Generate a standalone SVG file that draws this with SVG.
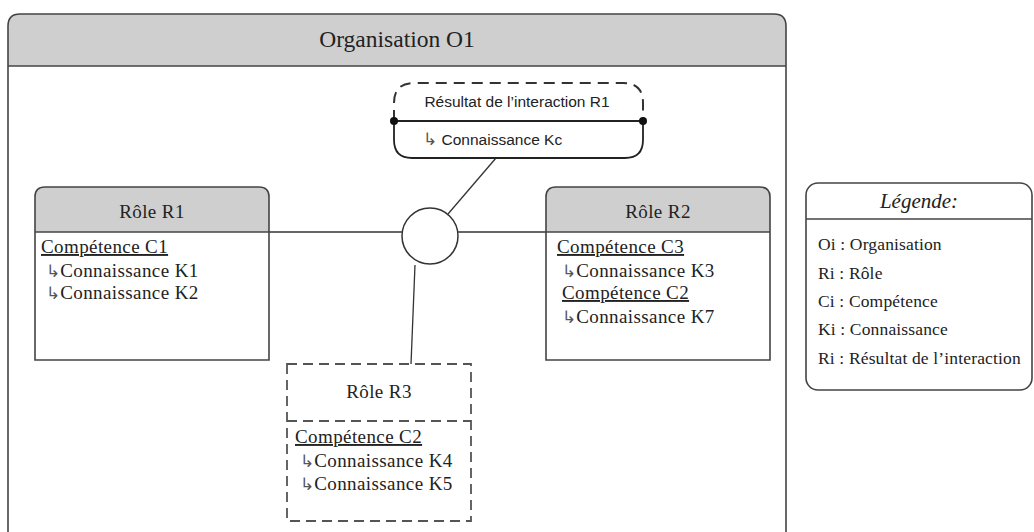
<svg xmlns="http://www.w3.org/2000/svg" width="1034" height="532" viewBox="0 0 1034 532">
<style>
.serif{font-family:"Liberation Serif","Times New Roman",serif;fill:#222}
.rt{font-size:19px;letter-spacing:0.4px}
.lg{font-size:17.5px;letter-spacing:0.15px}
.sans{font-family:"Liberation Sans",Arial,sans-serif;fill:#222}
.icon{font-family:"DejaVu Sans",sans-serif;font-size:17px;fill:#555;letter-spacing:0}
.hdr{fill:#cfcfcf}
.box{fill:none;stroke:#444;stroke-width:1.6}
.dash{fill:none;stroke:#555;stroke-width:1.8;stroke-dasharray:10 6}
.conn{stroke:#333;stroke-width:1.3;fill:none}
</style>
<rect width="1034" height="532" fill="#fff"/>
<g id="org">
  <path class="hdr" d="M8,66 V26 Q8,14 20,14 H774 Q786,14 786,26 V66 Z"/>
  <path class="box" d="M8,540 V26 Q8,14 20,14 H774 Q786,14 786,26 V540"/>
  <line x1="8" y1="66" x2="786" y2="66" stroke="#444" stroke-width="1.6"/>
  <text class="serif" x="397" y="47" font-size="23.5" text-anchor="middle">Organisation O1</text>
</g>
<g id="connectors">
  <line class="conn" x1="269" y1="232" x2="402" y2="232"/>
  <line class="conn" x1="458" y1="232" x2="546" y2="232"/>
  <line class="conn" x1="448" y1="214" x2="496" y2="158"/>
  <line class="conn" x1="415" y1="265" x2="411" y2="364"/>
</g>
<g id="interaction">
  <circle cx="430" cy="236" r="28" fill="#fff" stroke="#333" stroke-width="1.5"/>
</g>
<g id="result">
  <path d="M394,121 V103 Q394,83 414,83 H623 Q643,83 643,103 V121" fill="#fff" stroke="#333" stroke-width="2" stroke-dasharray="11 7"/>
  <path d="M394,121 V140 Q394,158 412,158 H625 Q643,158 643,140 V121" fill="#fff" stroke="#222" stroke-width="1.8"/>
  <line x1="394" y1="121" x2="643" y2="121" stroke="#222" stroke-width="2"/>
  <circle cx="394" cy="121" r="4" fill="#111"/>
  <circle cx="643" cy="121" r="4" fill="#111"/>
  <text class="sans" x="517" y="107" font-size="15.5" text-anchor="middle">Résultat de l’interaction R1</text>
  <text class="sans" x="423" y="145" font-size="15.5"><tspan class="icon">↳</tspan> Connaissance Kc</text>
</g>
<g id="role-r1">
  <path class="hdr" d="M35,232 V197 Q35,187 45,187 H259 Q269,187 269,197 V232 Z"/>
  <path class="box" d="M35,360 V197 Q35,187 45,187 H259 Q269,187 269,197 V360 Z"/>
  <line x1="35" y1="232" x2="269" y2="232" stroke="#444" stroke-width="1.6"/>
  <text class="serif rt" x="152" y="218" text-anchor="middle">Rôle R1</text>
  <text class="serif rt" x="41" y="253" text-decoration="underline">Compétence C1</text>
  <text class="serif rt" x="46" y="277"><tspan class="icon">↳</tspan>Connaissance K1</text>
  <text class="serif rt" x="46" y="299"><tspan class="icon">↳</tspan>Connaissance K2</text>
</g>
<g id="role-r2">
  <path class="hdr" d="M546,232 V197 Q546,187 556,187 H760 Q770,187 770,197 V232 Z"/>
  <path class="box" d="M546,360 V197 Q546,187 556,187 H760 Q770,187 770,197 V360 Z"/>
  <line x1="546" y1="232" x2="770" y2="232" stroke="#444" stroke-width="1.6"/>
  <text class="serif rt" x="658" y="218" text-anchor="middle">Rôle R2</text>
  <text class="serif rt" x="557" y="253" text-decoration="underline">Compétence C3</text>
  <text class="serif rt" x="562" y="277"><tspan class="icon">↳</tspan>Connaissance K3</text>
  <text class="serif rt" x="562" y="299" text-decoration="underline">Compétence C2</text>
  <text class="serif rt" x="562" y="323"><tspan class="icon">↳</tspan>Connaissance K7</text>
</g>
<g id="role-r3">
  <rect class="dash" x="287" y="364" width="184" height="157"/>
  <line class="dash" x1="287" y1="421" x2="471" y2="421"/>
  <text class="serif rt" x="379" y="398" text-anchor="middle">Rôle R3</text>
  <text class="serif rt" x="295" y="443" text-decoration="underline">Compétence C2</text>
  <text class="serif rt" x="300" y="467"><tspan class="icon">↳</tspan>Connaissance K4</text>
  <text class="serif rt" x="300" y="490"><tspan class="icon">↳</tspan>Connaissance K5</text>
</g>
<g id="legend">
  <rect x="806" y="183" width="226" height="207" rx="12" fill="#fff" stroke="#444" stroke-width="1.6"/>
  <line x1="806" y1="219" x2="1032" y2="219" stroke="#444" stroke-width="1.6"/>
  <text class="serif" x="919" y="208" font-size="21" font-style="italic" text-anchor="middle">Légende:</text>
  <text class="serif lg" x="818" y="250">Oi : Organisation</text>
  <text class="serif lg" x="818" y="279">Ri : Rôle</text>
  <text class="serif lg" x="818" y="307">Ci : Compétence</text>
  <text class="serif lg" x="818" y="335">Ki : Connaissance</text>
  <text class="serif lg" x="818" y="364">Ri : Résultat de l’interaction</text>
</g>
</svg>
